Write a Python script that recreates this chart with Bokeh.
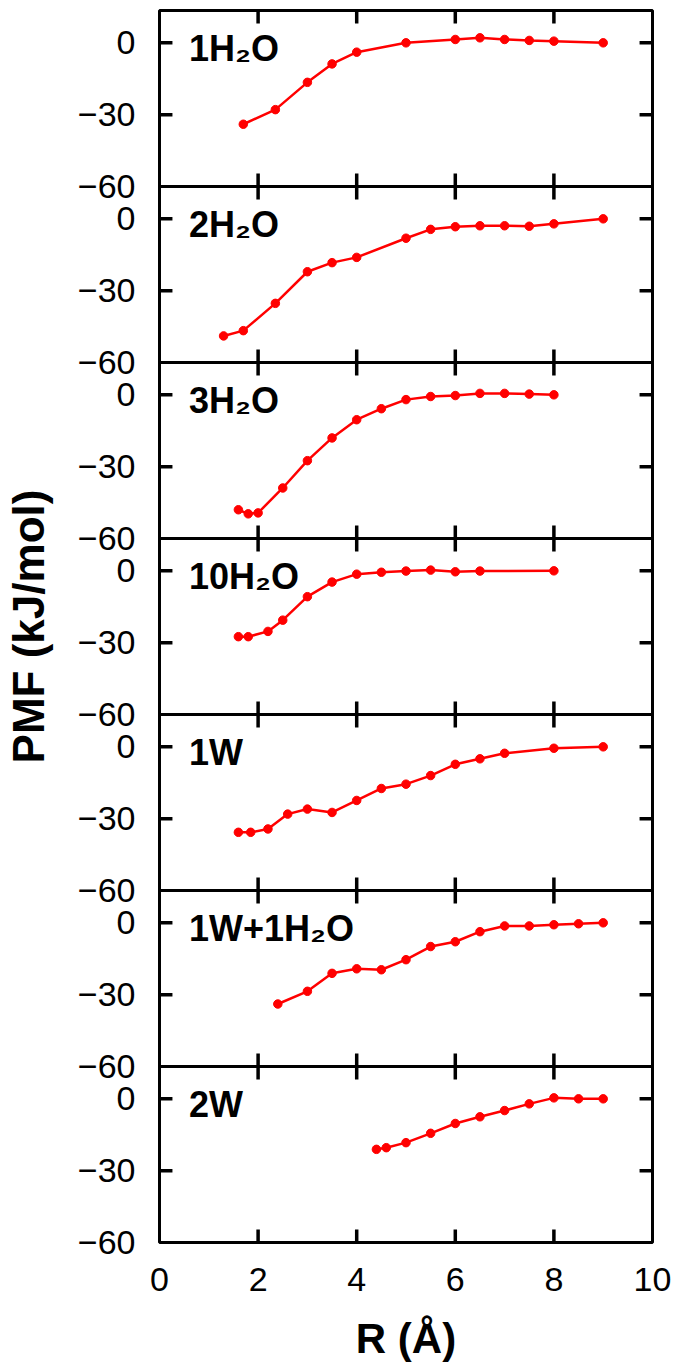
from bokeh.plotting import figure
from bokeh.models import Range1d, FixedTicker, Label
from bokeh.embed import file_html
from bokeh.resources import INLINE

# ---------------- data ----------------
panel_labels = ["1H\u2082O", "2H\u2082O", "3H\u2082O", "10H\u2082O", "1W", "1W+1H\u2082O", "2W"]

r_1h2o = [1.7, 2.35, 3.0, 3.5, 4.0, 5.0, 6.0, 6.5, 7.0, 7.5, 8.0, 9.0]
pmf_1h2o = [-34.0, -27.9, -16.5, -8.8, -3.9, 0.0, 1.4, 2.1, 1.4, 1.0, 0.7, 0.0]

r_2h2o = [1.3, 1.7, 2.35, 3.0, 3.5, 4.0, 5.0, 5.5, 6.0, 6.5, 7.0, 7.5, 8.0, 9.0]
pmf_2h2o = [-48.9, -46.7, -35.3, -22.1, -18.3, -16.1, -8.1, -4.4, -3.3, -2.9, -2.9, -3.1, -2.1, 0.0]

r_3h2o = [1.6, 1.8, 2.0, 2.5, 3.0, 3.5, 4.0, 4.5, 5.0, 5.5, 6.0, 6.5, 7.0, 7.5, 8.0]
pmf_3h2o = [-48.0, -49.7, -49.3, -38.9, -27.5, -18.0, -10.4, -5.8, -2.0, -0.7, -0.3, 0.6, 0.6, 0.3, 0.0]

r_10h2o = [1.6, 1.8, 2.2, 2.5, 3.0, 3.5, 4.0, 4.5, 5.0, 5.5, 6.0, 6.5, 8.0]
pmf_10h2o = [-27.5, -27.5, -25.3, -20.6, -10.8, -4.7, -1.4, -0.6, -0.1, 0.3, -0.4, -0.1, 0.0]

r_1w = [1.6, 1.85, 2.2, 2.6, 3.0, 3.5, 4.0, 4.5, 5.0, 5.5, 6.0, 6.5, 7.0, 8.0, 9.0]
pmf_1w = [-35.7, -35.7, -34.3, -28.1, -26.0, -27.4, -22.4, -17.4, -15.6, -12.0, -7.3, -5.0, -2.7, -0.6, 0.0]

r_1w1h2o = [2.4, 3.0, 3.5, 4.0, 4.5, 5.0, 5.5, 6.0, 6.5, 7.0, 7.5, 8.0, 8.5, 9.0]
pmf_1w1h2o = [-33.9, -28.6, -21.1, -19.2, -19.6, -15.4, -9.9, -7.9, -3.7, -1.3, -1.3, -0.8, -0.4, 0.0]

r_2w = [4.4, 4.6, 5.0, 5.5, 6.0, 6.5, 7.0, 7.5, 8.0, 8.5, 9.0]
pmf_2w = [-21.1, -20.4, -18.3, -14.4, -10.3, -7.5, -4.9, -2.1, 0.4, 0.0, 0.0]

series = [(r_1h2o, pmf_1h2o), (r_2h2o, pmf_2h2o), (r_3h2o, pmf_3h2o), (r_10h2o, pmf_10h2o),
          (r_1w, pmf_1w), (r_1w1h2o, pmf_1w1h2o), (r_2w, pmf_2w)]

x_ticks = [0, 2, 4, 6, 8, 10]
y_ticks = [-60, -30, 0]
y_tick_text = {-60: "\u221260", -30: "\u221230", 0: "0"}
y_min, y_max = -60.0, 13.5
x_min, x_max = 0, 10
x_title = "R (\u00c5)"
y_title = "PMF (kJ/mol)"

# ---------------- layout / style ----------------
FONT = "Liberation Sans"
N = len(series)
span = y_max - y_min
PANEL_PX = 176
FRAME_W = 495
TICK_PX = 13
LW = 3.5
BORDER_L, BORDER_T, BORDER_B, BORDER_R = 157, 10, 124, 23

p = figure(width=BORDER_L + FRAME_W + BORDER_R, height=BORDER_T + N * PANEL_PX + BORDER_B,
           x_range=Range1d(x_min, x_max), y_range=Range1d(0, N),
           min_border_left=BORDER_L, min_border_right=BORDER_R,
           min_border_top=BORDER_T, min_border_bottom=BORDER_B,
           output_backend="svg", toolbar_location=None)
p.grid.visible = False
p.outline_line_color = "black"
p.outline_line_width = 3
p.background_fill_color = "white"
p.border_fill_color = "white"


def panel_pos(k, v):
    """map value v of panel k (0 = top) into the stacked default y range"""
    return (N - 1 - k) + (v - y_min) / span


# ---- bottom axis: labels + title (tick marks drawn as glyphs below) ----
xa = p.xaxis[0]
xa.ticker = FixedTicker(ticks=x_ticks)
xa.major_tick_in = 0
xa.major_tick_out = 0
xa.minor_tick_line_color = None
xa.axis_line_color = None
xa.major_label_standoff = 25
xa.major_label_text_font = FONT
xa.major_label_text_font_size = "34px"
xa.major_label_text_color = "black"
xa.axis_label = x_title
xa.axis_label_text_font = FONT
xa.axis_label_text_font_size = "42px"
xa.axis_label_text_font_style = "bold"
xa.axis_label_text_color = "black"
xa.axis_label_standoff = 21

# ---- left axis: tick labels of all stacked panels + title ----
ya = p.yaxis[0]
ypos, ylab = [], {}
for k in range(N):
    for v in y_ticks:
        pos = panel_pos(k, v)
        ypos.append(pos)
        ylab[pos] = y_tick_text[v]
ya.ticker = FixedTicker(ticks=ypos)
ya.major_label_overrides = ylab
ya.major_tick_in = 0
ya.major_tick_out = 0
ya.minor_tick_line_color = None
ya.axis_line_color = None
ya.major_label_standoff = 24
ya.major_label_text_font = FONT
ya.major_label_text_font_size = "34px"
ya.major_label_text_color = "black"
ya.axis_label = y_title
ya.axis_label_text_font = FONT
ya.axis_label_text_font_size = "44px"
ya.axis_label_text_font_style = "bold"
ya.axis_label_text_color = "black"
ya.axis_label_standoff = 22

# ---- inner tick marks on every panel edge ----
tl_y = TICK_PX / PANEL_PX
tl_x = TICK_PX * (x_max - x_min) / FRAME_W
inner_x = [t for t in x_ticks if x_min < t < x_max]

mx, my = [], []
for b in range(0, N + 1):
    for t in inner_x:
        if b < N:
            mx.append([t, t]); my.append([b, b + tl_y])
        if b > 0:
            mx.append([t, t]); my.append([b, b - tl_y])
for k in range(N):
    for v in y_ticks:
        if v == y_min:
            continue
        pos = panel_pos(k, v)
        mx.append([x_min, x_min + tl_x]); my.append([pos, pos])
        mx.append([x_max, x_max - tl_x]); my.append([pos, pos])
p.multi_line(xs=mx, ys=my, line_color="black", line_width=LW, line_cap="butt")

# panel separators
sep = list(range(1, N))
p.hspan(y=sep, line_color="black", line_width=3)

# ---- data ----
for k, (xs, ys) in enumerate(series):
    name = f"p{k}"
    below = N - 1 - k
    p.extra_y_ranges[name] = Range1d(y_min - below * span, y_max + k * span)
    p.line(xs, ys, y_range_name=name, line_color="#ff0000", line_width=2.5)
    p.scatter(xs, ys, y_range_name=name, size=8.5, fill_color="#ff0000", line_color="#ff0000")
    p.add_layout(Label(x=0.6, y=-2.2, y_range_name=name, text=panel_labels[k],
                       text_font=FONT, text_font_style="bold", text_font_size="36px",
                       text_baseline="alphabetic", text_align="left", text_color="black"))

open("out.html", "w").write(file_html(p, INLINE))
